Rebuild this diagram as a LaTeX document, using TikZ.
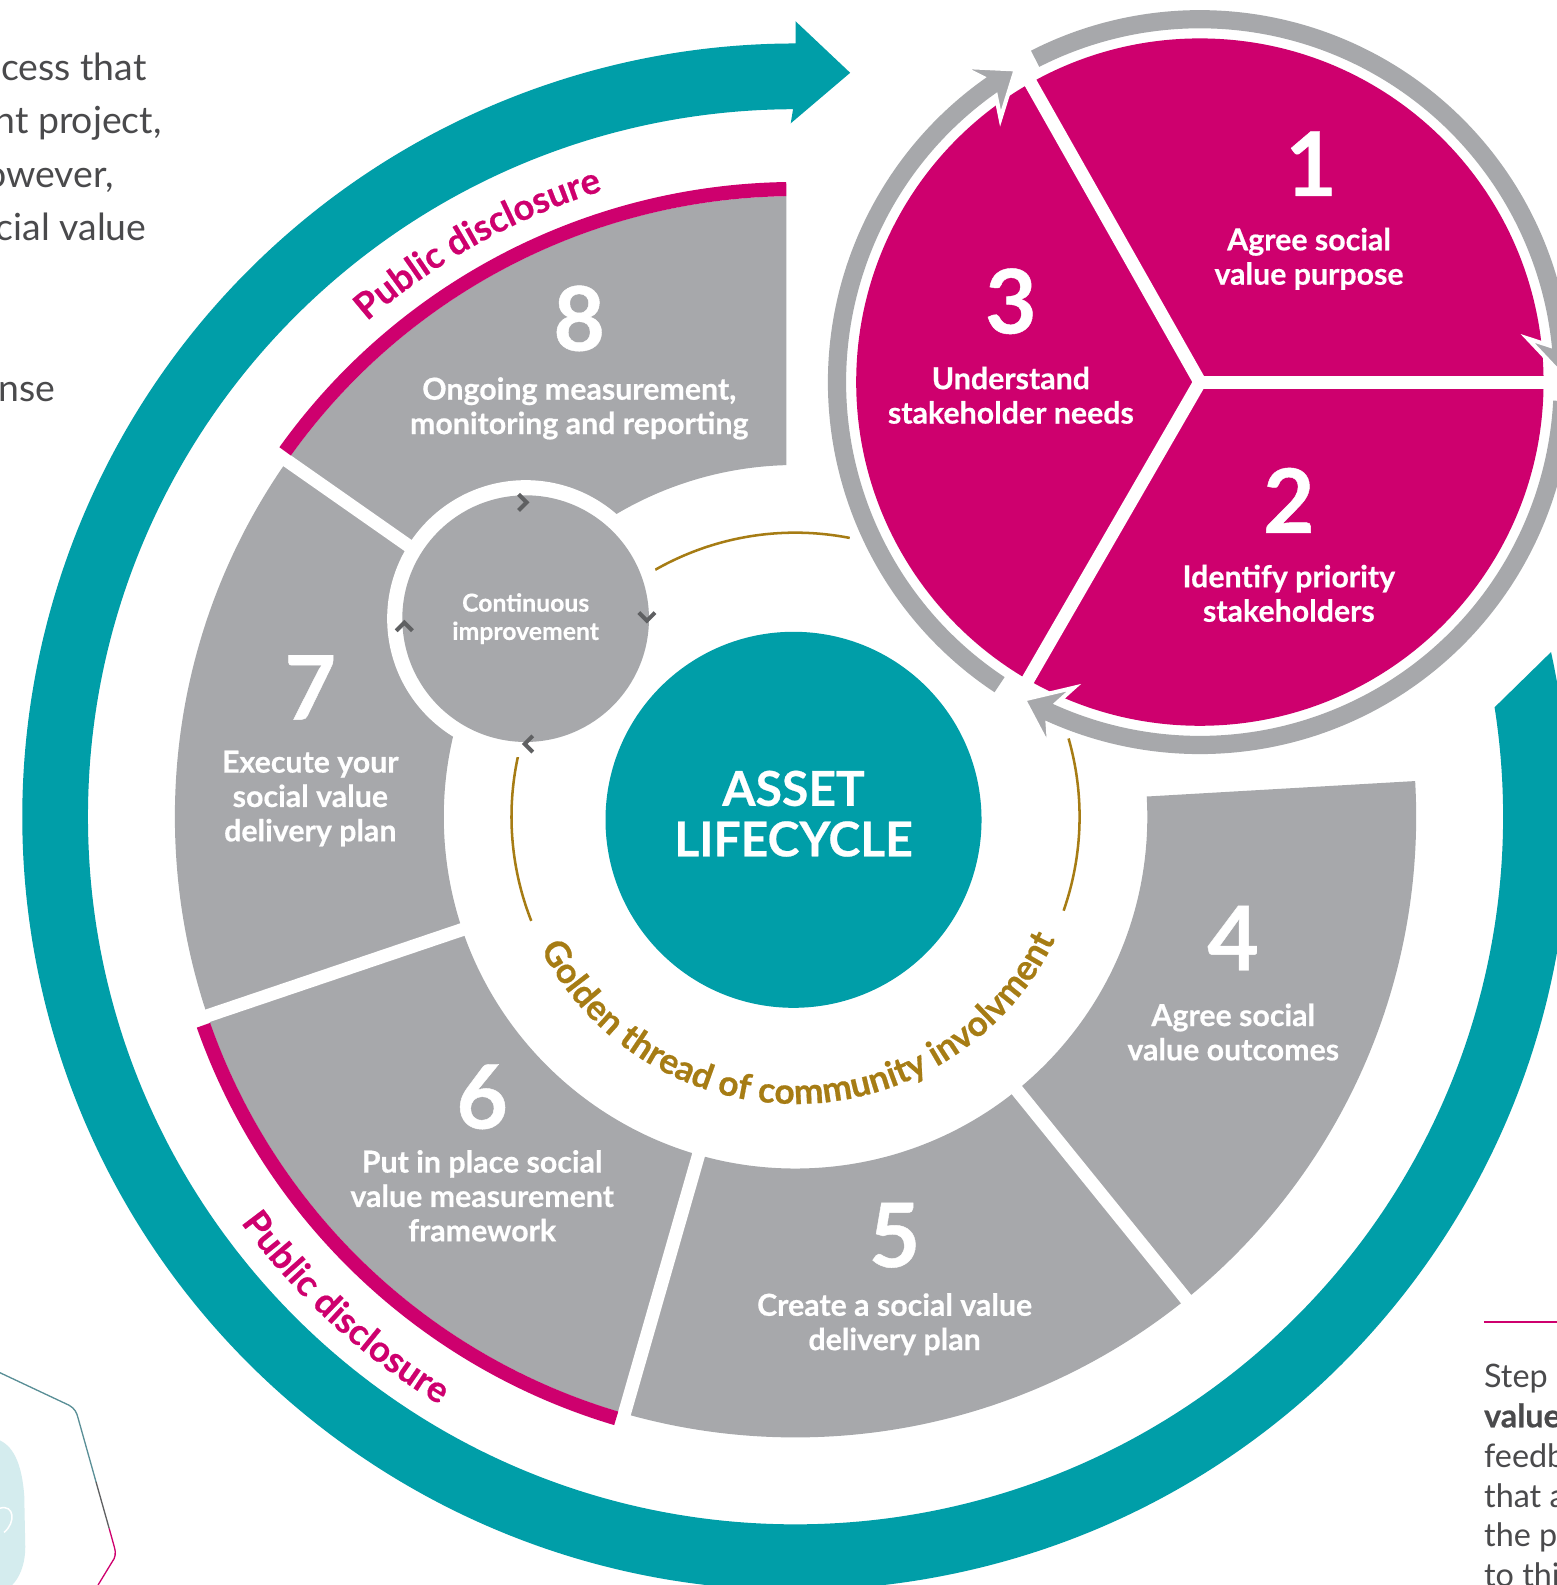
\documentclass[tikz,border=0pt]{standalone}
\usepackage{fontspec}
\setmainfont{Lato}[BoldFeatures={FakeBold=0.5}]
\usetikzlibrary{calc,decorations.text}
\definecolor{tealc}{HTML}{009EA8}
\definecolor{mag}{HTML}{CE006E}
\definecolor{gry}{HTML}{A7A8AB}
\definecolor{gold}{HTML}{A67C14}
\definecolor{chevc}{HTML}{5F6062}
\definecolor{txt}{HTML}{4A4A4C}
\definecolor{icoline}{HTML}{5A8F97}
\definecolor{icofill}{HTML}{D4ECEE}
\newcommand\goldfont{\fontsize{35}{35}\selectfont\bfseries\color{gold}}
\newcommand\pdfont{\fontsize{36}{36}\selectfont\bfseries\color{mag}}
\begin{document}
\begin{tikzpicture}[x=1pt,y=1pt,
  num/.style={text=white, font=\fontsize{88}{88}\selectfont\bfseries, inner sep=0pt},
  lbl/.style={text=white, align=center, font=\fontsize{30}{34}\selectfont\bfseries, inner sep=0pt},
  bodytxt/.style={text=txt, font=\fontsize{37}{52}\selectfont, inner sep=0pt},
  sidetxt/.style={text=txt, font=\fontsize{32}{39}\selectfont, inner sep=0pt, anchor=base west},
  chevstyle/.style={draw=chevc, line width=4pt},
  gapline/.style={white, line width=13pt},
  goldline/.style={gold, line width=2.5pt}]
\useasboundingbox (0,0) rectangle (1540,-1568);
\fill[white] (0,0) rectangle (1540,-1568);
\coordinate (C) at (787,-808);
\coordinate (M) at (1187,-378);
\coordinate (S) at (520,-612);

% teal outer arrow
\fill[tealc] ($(C)+(8.9:700)$) -- ($(C)+(12.3:765)$)
  arc[start angle=12.3, end angle=-270, radius=765]
  -- ($(C)+(90:787)$) -- ($(C)+(85.8:738)$) -- ($(C)+(90.4:686)$) -- ($(C)+(90.2:700)$)
  arc[start angle=-269.8, end angle=8.9, radius=700] -- cycle;

% gray segments
\fill[gry] ($(C)+(90.84:614)$) arc[start angle=90.84, end angle=363.3, radius=614]
  -- ($(C)+(3.3:348)$) arc[start angle=363.3, end angle=91.48, radius=348] -- cycle;
\foreach \a in {145,198.7,254,309}
  \draw[gapline] ($(C)+(\a:330)$) -- ($(C)+(\a:645)$);

% magenta bands
\draw[mag, line width=14pt] ($(C)+(90.84:621)$) arc[start angle=90.84, end angle=144.4, radius=621];
\draw[mag, line width=14pt] ($(C)+(199.4:621)$) arc[start angle=199.4, end angle=253.4, radius=621];

% golden thread arcs
\draw[goldline] ($(C)+(-19.3:281)$) arc[start angle=-19.3, end angle=16, radius=281];
\draw[goldline] ($(C)+(79:281)$) arc[start angle=79, end angle=201.5, radius=281];
\path[decorate, decoration={text along path, text align=center,
  text={|\goldfont|Golden thread of community involvment}}]
  ($(C)+(191:284)$) arc[start angle=191, end angle=351, radius=284];

% public disclosure
\path[decorate, decoration={text along path, text align=center,
  text={|\pdfont|Public disclosure}}]
  ($(C)+(139:648)$) arc[start angle=139, end angle=99, radius=648];
\path[decorate, decoration={text along path, text align=center,
  text={|\pdfont|Public disclosure}}]
  ($(C)+(207:680)$) arc[start angle=207, end angle=248, radius=680];

% continuous improvement circle
\fill[white] (S) circle[radius=137];
\fill[gry] (S) circle[radius=122];
\draw[chevstyle, shift={(517,-497)}, rotate=0] (-4,8) -- (4,0) -- (-4,-8);
\draw[chevstyle, shift={(640,-610)}, rotate=-90] (-4,8) -- (4,0) -- (-4,-8);
\draw[chevstyle, shift={(523,-736)}, rotate=180] (-4,8) -- (4,0) -- (-4,-8);
\draw[chevstyle, shift={(400,-620)}, rotate=90] (-4,8) -- (4,0) -- (-4,-8);
\node[text=white, align=center, font=\fontsize{24.5}{28}\selectfont\bfseries, inner sep=0pt] (ci) at (520,-612) {Continuous\\improvement};

% centre
\fill[tealc] (785,-811) circle[radius=186];
\node[text=white, align=center, font=\fontsize{47.5}{50}\selectfont\bfseries, inner sep=0pt] (asset) at (785,-805) {ASSET\\LIFECYCLE};

% magenta group
\fill[mag] (M) circle[radius=340];
\foreach \a in {0,119.5,240}
  \draw[white, line width=13pt, line cap=round] (M) -- ($(M)+(\a:385)$);
\foreach \d in {119.5,0,-120} {
  \filldraw[fill=gry, draw=white, line width=4pt, line join=miter]
    ($(M)+({\d+7.6}:391)$) -- ($(M)+({\d+1.0}:359)$) -- ($(M)+({\d+7.6}:327)$)
    -- ($(M)+({\d+5.8}:350)$) -- ($(M)+({\d+5.8}:368)$) -- cycle;
  \draw[gry, line width=18pt] ($(M)+({\d+117}:359)$) arc[start angle=\d+117, end angle=\d+5.0, radius=359];
}

% numbers and labels
\node[num] (n1) at (1297,-162) {1};
\node[lbl] (l1) at (1295,-256) {Agree social\\value purpose};
\node[num] (n2) at (1275,-495) {2};
\node[lbl] (l2) at (1275,-587) {Identify priority\\stakeholders};
\node[num] (n3) at (1000,-298) {3};
\node[lbl] (l3) at (1000,-391) {Understand\\stakeholder needs};
\node[num] (n4) at (1220,-928) {4};
\node[lbl] (l4) at (1220,-1021) {Agree social\\value outcomes};
\node[num] (n5) at (885,-1222) {5};
\node[lbl] (l5) at (885,-1310) {Create a social value\\delivery plan};
\node[num] (n6) at (477,-1085) {6};
\node[lbl] (l6) at (477,-1183) {Put in place social\\value measurement\\framework};
\node[num] (n7) at (307,-680) {7};
\node[lbl] (l7) at (307,-790) {Execute your\\social value\\delivery plan};
\node[num] (n8) at (573,-315) {8};
\node[lbl] (l8) at (573,-404) {Ongoing measurement,\\monitoring and reporting};

% left page text
\node[bodytxt, anchor=base east] (p1) at (145,-80) {cess that};
\node[bodytxt, anchor=base east] (p2) at (160,-132) {nt project,};
\node[bodytxt, anchor=base east] (p3) at (113,-185) {owever,};
\node[bodytxt, anchor=base east] (p4) at (145,-238) {cial value};
\node[bodytxt, anchor=base east] (p5) at (55,-397) {nse};

% right page text
\draw[mag, line width=2.5pt] (1468,-1308) -- (1545,-1308);
\node[sidetxt] (r1) at (1468,-1373) {Step};
\node[sidetxt] (r2) at (1468,-1412) {\bfseries value};
\node[sidetxt] (r3) at (1468,-1452) {feedb};
\node[sidetxt] (r4) at (1468,-1491) {that a};
\node[sidetxt] (r5) at (1468,-1530) {the p};
\node[sidetxt] (r6) at (1468,-1569) {to thi};

% bottom-left icon
\fill[icofill] (0,-1425) .. controls (15,-1432) and (22,-1452) .. (24,-1480)
  -- (25,-1530) .. controls (25,-1550) and (18,-1562) .. (12,-1568) -- (0,-1568) -- cycle;
\draw[white, line width=1.5pt] (0,-1492) .. controls (14,-1488) and (16,-1506) .. (4,-1516);
\draw[icoline, line width=1.3pt] (0,-1358) -- (68,-1390) .. controls (74,-1393) and (76,-1398) .. (77,-1402) -- (95,-1466);
\draw[chevc, line width=1.3pt] (95,-1466) -- (108,-1512);
\draw[mag, line width=1.3pt] (108,-1512) -- (113,-1530) .. controls (115,-1537) and (114,-1541) .. (111,-1545) -- (97,-1568);
\end{tikzpicture}
\end{document}
